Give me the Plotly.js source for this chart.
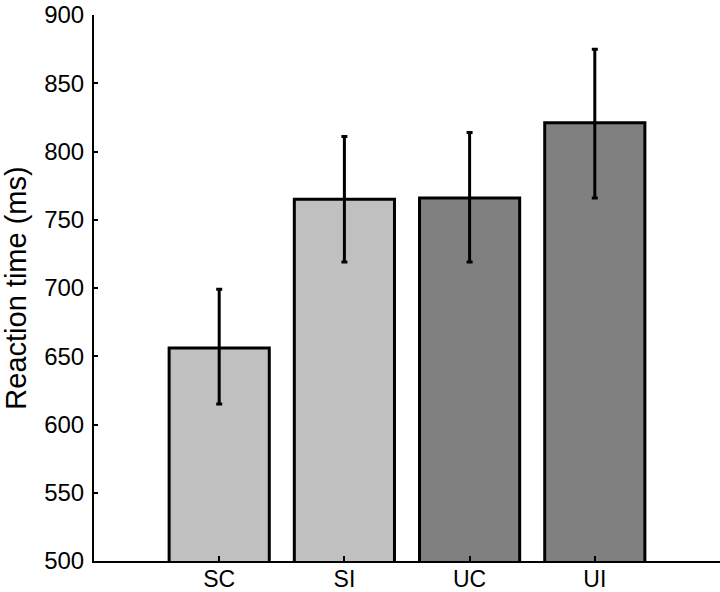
<!DOCTYPE html>
<html>
<head>
<meta charset="utf-8">
<script src="https://cdn.plot.ly/plotly-3.0.1.min.js"></script>
<style>
  html, body { margin: 0; padding: 0; background: #fff; }
  #chart { width: 720px; height: 592px; }
</style>
</head>
<body>
<div id="chart"></div>
<script>
// Reaction time per condition
var conditions = ["SC", "SI", "UC", "UI"];
var positions = [1, 2, 3, 4];
var meanRT = [656, 765, 766, 821];
var errUp = [43, 46, 48, 54];
var errDown = [41, 46, 47, 55];
var barColors = ["#c0c0c0", "#c0c0c0", "#808080", "#808080"];
var yTicks = [500, 550, 600, 650, 700, 750, 800, 850, 900];

var trace = {
  type: "bar",
  x: positions,
  y: meanRT,
  width: 0.8,
  marker: { color: barColors, line: { color: "#000", width: 3 } },
  error_y: {
    type: "data",
    symmetric: false,
    array: errUp,
    arrayminus: errDown,
    color: "#000",
    thickness: 3,
    width: 3
  },
  hoverinfo: "none"
};

var layout = {
  width: 720,
  height: 592,
  margin: { l: 94, r: 0, t: 15, b: 31 },
  paper_bgcolor: "#fff",
  plot_bgcolor: "#fff",
  showlegend: false,
  font: { family: "Liberation Sans, Arial, sans-serif", color: "#000", size: 24 },
  xaxis: {
    range: [0, 5],
    tickvals: positions,
    ticktext: conditions,
    ticks: "inside",
    ticklen: 5,
    tickwidth: 2,
    tickcolor: "#000",
    showline: true,
    linecolor: "#000",
    linewidth: 2,
    showgrid: false,
    zeroline: false,
    ticklabelstandoff: -4,
    tickfont: { size: 23 }
  },
  yaxis: {
    range: [500, 900],
    tickvals: yTicks,
    ticks: "inside",
    ticklen: 4,
    tickwidth: 2,
    tickcolor: "#000",
    showline: true,
    linecolor: "#000",
    linewidth: 2,
    showgrid: false,
    zeroline: false,
    ticklabeloverflow: "allow",
    ticklabelstandoff: 3,
    tickfont: { size: 24 },
    title: { text: "Reaction time (ms)", font: { size: 29 }, standoff: 9 }
  }
};

Plotly.newPlot("chart", [trace], layout, { displayModeBar: false, staticPlot: true });
</script>
</body>
</html>
